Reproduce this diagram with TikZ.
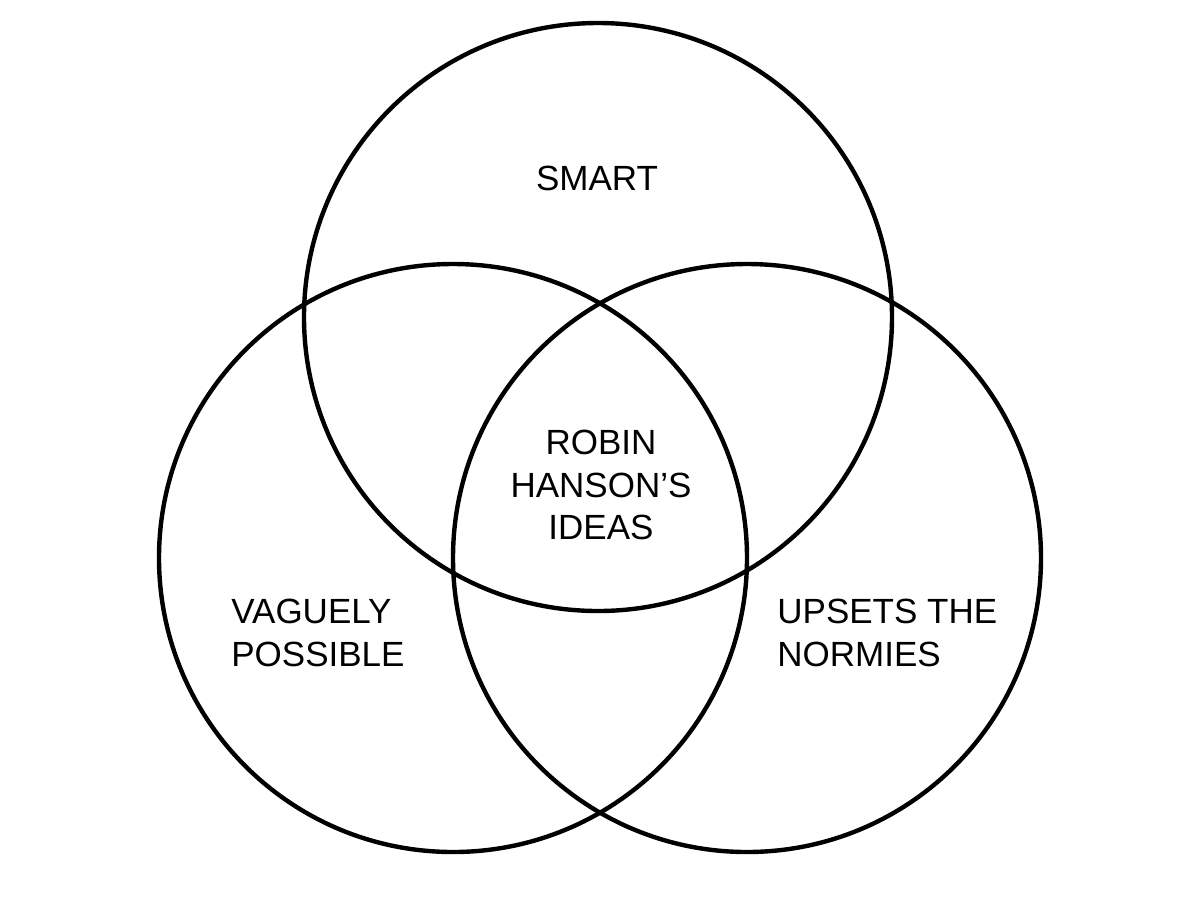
\documentclass[tikz,border=0pt]{standalone}
\usepackage{fontspec}
\setmainfont{Liberation Sans}
\begin{document}
\begin{tikzpicture}[x=0.5pt,y=-0.5pt,
  ring/.style={draw=black,line width=2.2pt},
  lbl/.style={inner sep=0pt,font=\fontsize{17.5}{21.2}\selectfont}]
\useasboundingbox[fill=white] (0,0) rectangle (1200,902);
\draw[ring] (598,317) circle[radius=294];
\draw[ring] (453,558) circle[radius=294];
\draw[ring] (747,558) circle[radius=294];
\node[lbl,anchor=north] (smart) at (597,166) {SMART};
\node[lbl,anchor=north,align=center] (robin) at (601,430) {ROBIN\\HANSON’S\\IDEAS};
\node[lbl,anchor=north west,align=left] (vague) at (231,599) {VAGUELY\\POSSIBLE};
\node[lbl,anchor=north west,align=left] (upset) at (777,599) {UPSETS THE\\NORMIES};
\end{tikzpicture}
\end{document}
